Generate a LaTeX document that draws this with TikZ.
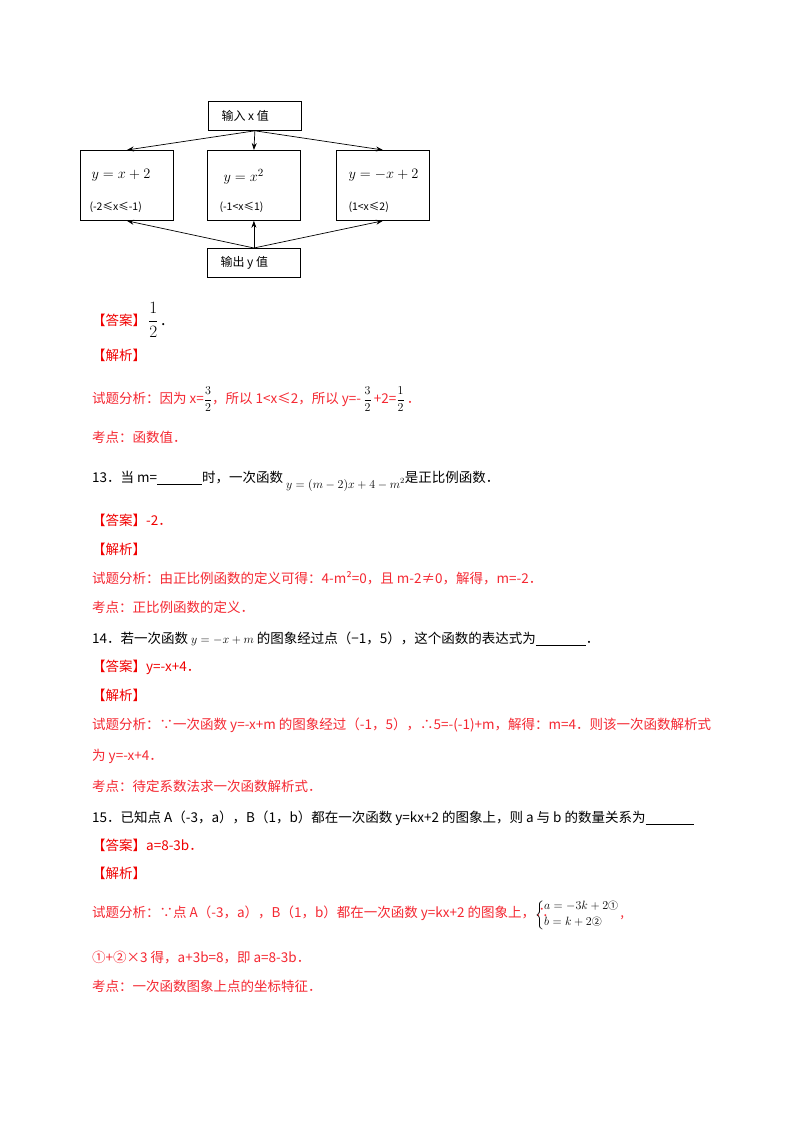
\documentclass[tikz,border=0pt]{standalone}
\usepackage{amsmath}
\usepackage{fontspec}
\setmainfont{Noto Sans CJK SC}
\usetikzlibrary{arrows.meta}
\definecolor{lab}{RGB}{240,0,0}
\definecolor{ana}{RGB}{245,40,50}
\begin{document}
\begin{tikzpicture}[x=1pt,y=-1pt,
  box/.style={draw,line width=0.8pt,minimum width=93pt,anchor=north west,inner sep=0pt},
  ar/.style={line width=0.7pt,-{Stealth[length=7pt,width=5pt]}},
  ln/.style={anchor=base west,inner sep=0pt,font=\fontsize{13.5}{15}\selectfont},
  L/.style={ln,text=lab},
  A/.style={ln,text=ana}]
\useasboundingbox[fill=white] (0,0) rectangle (800,1132);
% flowchart
\node[box,minimum height=29pt] (in) at (208,101) {};
\node[anchor=west,font=\fontsize{12}{14}\selectfont] (inT) at (218,116) {输入 x 值};
\node[box,minimum height=70pt] (b1) at (80,150) {};
\node[box,minimum height=70pt] (b2) at (207,150) {};
\node[box,minimum height=70pt] (b3) at (336,150) {};
\node[box,minimum height=29pt] (out) at (207,248) {};
\node[anchor=west,font=\fontsize{12}{14}\selectfont] (outT) at (217,263) {输出 y 值};
\node[anchor=west,font=\fontsize{15.5}{17}\selectfont] (f1) at (88,175) {$y=x+2$};
\node[anchor=west,font=\fontsize{15.5}{17}\selectfont] (f2) at (220,177) {$y=x^2$};
\node[anchor=west,font=\fontsize{15.5}{17}\selectfont] (f3) at (345,175) {$y=-x+2$};
\node[anchor=west,font=\fontsize{10.5}{12}\selectfont] (c1) at (86,207) {(-2≤x≤-1)};
\node[anchor=west,font=\fontsize{10.5}{12}\selectfont] (c2) at (216,207) {(-1<x≤1)};
\node[anchor=west,font=\fontsize{10.5}{12}\selectfont] (c3) at (345,207) {(1<x≤2)};
\coordinate (inb) at (in.south);
\coordinate (outt) at (out.north);
\draw[ar] (inb) -- (b1.north);
\draw[ar] (inb) -- (b2.north);
\draw[ar] (inb) -- (b3.north);
\draw[ar] (outt) -- (b1.south);
\draw[ar] (outt) -- (b2.south);
\draw[ar] (outt) -- (b3.south);
% text
\node[L] (t1) at (92,325) {【答案】};
\node[ln,anchor=west] (t1b) at (148,320) {\fontsize{16}{17}\selectfont$\dfrac{1}{2}$\,.};
\node[L] (t2) at (92,360) {【解析】};
\node[A] (t3) at (92,403) {试题分析：因为 x=\textcolor{black}{\large$\dfrac{3}{2}$}，所以 1<x≤2，所以 y=-\,\textcolor{black}{\large$\dfrac{3}{2}$}\,+2=\textcolor{black}{\large$\dfrac{1}{2}$}\,．};
\node[A] (t4) at (92,442) {考点：函数值．};
\node[ln] (t5) at (92,482) {13．当 m=\underline{\hspace{45pt}}时，一次函数 \raisebox{-6pt}{\large$y=(m-2)x+4-m^2$}是正比例函数．};
\node[L] (t6) at (92,525) {【答案】-2．};
\node[L] (t7) at (92,554) {【解析】};
\node[A] (t8) at (92,583) {试题分析：由正比例函数的定义可得：4-m²=0，且 m-2≠0，解得，m=-2．};
\node[A] (t9) at (92,612) {考点：正比例函数的定义．};
\node[ln] (t10) at (92,643) {14．若一次函数 {\large$y=-x+m$} 的图象经过点（−1，5），这个函数的表达式为\underline{\hspace{50pt}}．};
\node[L] (t11) at (92,671) {【答案】y=-x+4．};
\node[L] (t12) at (92,700) {【解析】};
\node[A] (t13) at (92,729) {试题分析：∵一次函数 y=-x+m 的图象经过（-1，5），∴5=-(-1)+m，解得：m=4．则该一次函数解析式};
\node[A] (t14) at (92,760) {为 y=-x+4．};
\node[A] (t15) at (92,791) {考点：待定系数法求一次函数解析式．};
\node[ln] (t16) at (92,822) {15．已知点 A（-3，a），B（1，b）都在一次函数 y=kx+2 的图象上，则 a 与 b 的数量关系为\underline{\hspace{48pt}}};
\node[L] (t17) at (92,850) {【答案】a=8-3b．};
\node[L] (t18) at (92,878) {【解析】};
\node[A] (t19) at (92,917) {试题分析：∵点 A（-3，a），B（1，b）都在一次函数 y=kx+2 的图象上，∴};
\node[ln,anchor=west,font=\large] (t19b) at (535,915) {$\left\{\begin{array}{@{}l@{}}a=-3k+2\text{\normalsize①}\\[2pt] b=k+2\text{\normalsize②}\end{array}\right.$\textcolor{ana}{，}};
\node[A] (t20) at (92,962) {①+②×3 得，a+3b=8，即 a=8-3b．};
\node[A] (t21) at (92,991) {考点：一次函数图象上点的坐标特征．};
\end{tikzpicture}
\end{document}
